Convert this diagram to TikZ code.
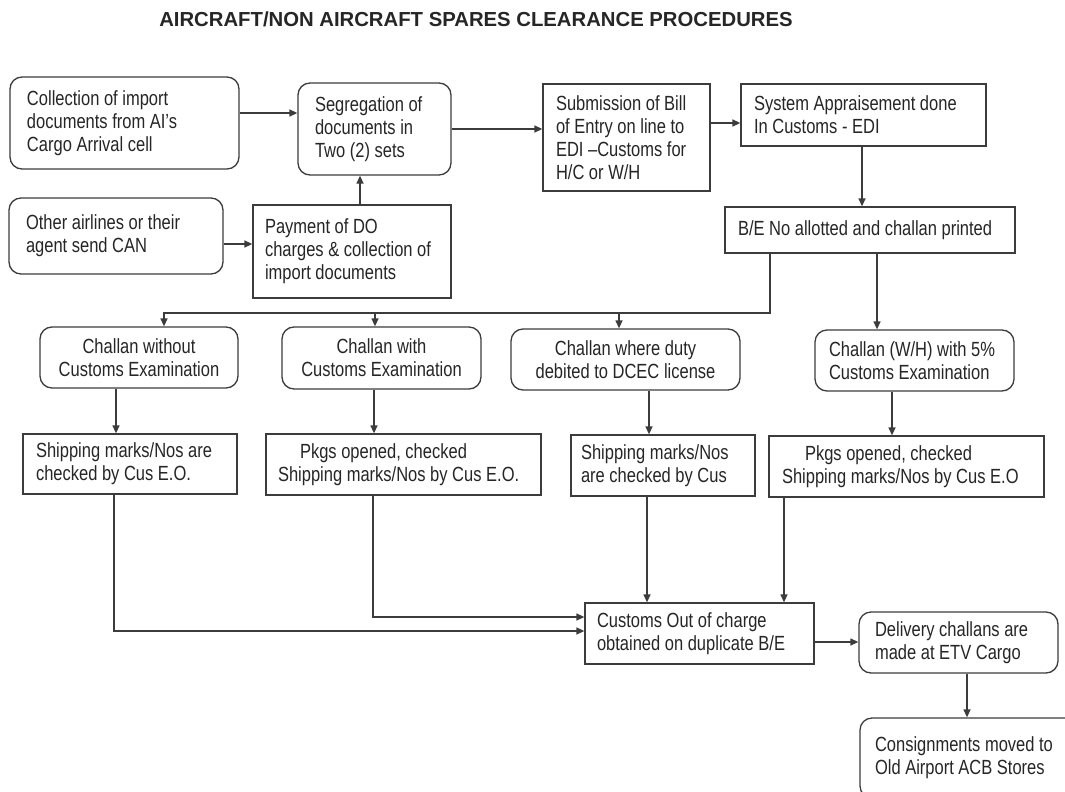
\documentclass[tikz,border=0pt]{standalone}
\usepackage{fontspec}
\setmainfont{Liberation Sans}[FakeStretch=0.805]
\newfontfamily\headfont{Liberation Sans}
\usetikzlibrary{arrows.meta}
\definecolor{ink}{HTML}{262626}
\definecolor{edge}{HTML}{3C3C3C}
\tikzset{
  box/.style={draw=edge, line width=1.3pt, text=ink, inner ysep=0pt,
    font=\fontsize{20.5}{23}\selectfont, align=flush left},
  rbox/.style={box, rounded corners=12pt},
  link/.style={draw=edge, line width=1.3pt},
  arr/.style={link, -{Triangle[length=8pt,width=7pt]}},
}
\begin{document}
\begin{tikzpicture}[x=1pt,y=-1pt]
\useasboundingbox (0,0) rectangle (1065,792);
\clip (0,0) rectangle (1065,792);
\fill[white] (0,0) rectangle (1065,792);

% heading
\node[font=\headfont\bfseries\fontsize{20.3}{24}\selectfont, text=ink, anchor=base, inner sep=0pt]
  (title) at (476,27) {AIRCRAFT/NON AIRCRAFT SPARES CLEARANCE PROCEDURES};

% first stage: documents
\node[rbox, minimum width=229pt, minimum height=92pt, text width=195pt, inner xsep=17pt]
  (coll) at (124.5,123) {Collection of import\\documents from AI's\\Cargo Arrival cell};
\node[rbox, minimum width=153pt, minimum height=92pt, text width=119pt, inner xsep=17pt]
  (seg) at (374.5,129) {Segregation of\\documents in\\Two (2) sets};
\node[box, minimum width=167pt, minimum height=107pt, text width=141pt, inner xsep=13pt]
  (sub) at (626.5,137.5) {Submission of Bill\\of Entry on line to\\EDI --Customs for\\H/C or W/H};
\node[box, minimum width=245pt, minimum height=62pt, text width=219pt, inner xsep=13pt]
  (sys) at (863.5,115) {System Appraisement done\\In Customs - EDI};
\node[box, minimum width=290pt, minimum height=46pt, text width=264pt, inner xsep=13pt]
  (be) at (870,230) {B/E No allotted and challan printed};
\node[rbox, minimum width=214pt, minimum height=76pt, text width=180pt, inner xsep=17pt]
  (oth) at (116,236) {Other airlines or their\\agent send CAN};
\node[box, minimum width=198pt, minimum height=93pt, text width=174pt, inner xsep=12pt]
  (pay) at (352,251.5) {Payment of DO\\charges \& collection of\\import documents};

% challan types
\node[rbox, align=flush center, minimum width=198pt, minimum height=61pt, text width=178pt, inner xsep=10pt]
  (cwo) at (139,357.5) {Challan without\\Customs Examination};
\node[rbox, align=flush center, minimum width=199pt, minimum height=62pt, text width=179pt, inner xsep=10pt]
  (cwi) at (381.5,358) {Challan with\\Customs Examination};
\node[rbox, align=flush center, minimum width=229pt, minimum height=61pt, text width=209pt, inner xsep=10pt]
  (cwd) at (625.5,359.5) {Challan where duty\\debited to DCEC license};
\node[rbox, minimum width=199pt, minimum height=61pt, text width=171pt, inner xsep=14pt]
  (cwh) at (914.5,360.5) {Challan (W/H) with 5\%\\Customs Examination};

% examination stage
\node[box, minimum width=214pt, minimum height=60pt, text width=188pt, inner xsep=13pt]
  (sh1) at (130,464) {Shipping marks/Nos are\\checked by Cus E.O.};
\node[box, minimum width=275pt, minimum height=61pt, text width=251pt, inner xsep=12pt]
  (pk1) at (403.5,464.5) {\hspace*{22pt}Pkgs opened, checked\\Shipping marks/Nos by Cus E.O.};
\node[box, minimum width=184pt, minimum height=61pt, text width=164pt, inner xsep=10pt]
  (sh2) at (663,465.5) {Shipping marks/Nos\\are checked by Cus};
\node[box, minimum width=275pt, minimum height=61pt, text width=249pt, inner xsep=13pt]
  (pk2) at (906.5,466.5) {\hspace*{23pt}Pkgs opened, checked\\Shipping marks/Nos by Cus E.O};

% clearance and delivery
\node[box, minimum width=229pt, minimum height=61pt, text width=205pt, inner xsep=12pt]
  (cus) at (699.5,633.5) {Customs Out of charge\\obtained on duplicate B/E};
\node[rbox, minimum width=199pt, minimum height=61pt, text width=167pt, inner xsep=16pt]
  (del) at (958.5,642.5) {Delivery challans are\\made at ETV Cargo};
\node[rbox, minimum width=222pt, minimum height=80pt, text width=192pt, inner xsep=15pt]
  (cons) at (971,758) {Consignments moved to\\Old Airport ACB Stores};

% connectors
\draw[arr] (coll.east |- 0,113) -- (seg.west |- 0,113);
\draw[arr] (oth.east |- 0,244) -- (pay.west |- 0,244);
\draw[arr] (pay.north -| 360,0) -- (seg.south -| 360,0);
\draw[arr] (seg.east |- 0,129) -- (sub.west |- 0,129);
\draw[arr] (sub.east |- 0,123) -- (sys.west |- 0,123);
\draw[arr] (sys.south -| 862,0) -- (be.north -| 862,0);

\coordinate (split) at (770,313);
\draw[arr] (be.south -| split) -- (split) -- (164,313) -- (cwo.north -| 164,0);
\draw[arr] (375,313) -- (cwi.north -| 375,0);
\draw[arr] (619,313) -- (cwd.north -| 619,0);
\draw[arr] (be.south -| 877,0) -- (cwh.north -| 877,0);

\draw[arr] (cwo.south -| 116,0) -- (sh1.north -| 116,0);
\draw[arr] (cwi.south -| 374,0) -- (pk1.north -| 374,0);
\draw[arr] (cwd.south -| 649,0) -- (sh2.north -| 649,0);
\draw[arr] (cwh.south -| 892,0) -- (pk2.north -| 892,0);

\draw[arr] (sh1.south -| 114,0) |- (cus.west |- 0,631);
\draw[arr] (pk1.south -| 373,0) |- (cus.west |- 0,617);
\draw[arr] (sh2.south -| 647,0) -- (cus.north -| 647,0);
\draw[arr] (pk2.south -| 784,0) -- (cus.north -| 784,0);
\draw[arr] (cus.east |- 0,642) -- (del.west |- 0,642);
\draw[arr] (del.south -| 967,0) -- (cons.north -| 967,0);
\end{tikzpicture}
\end{document}
